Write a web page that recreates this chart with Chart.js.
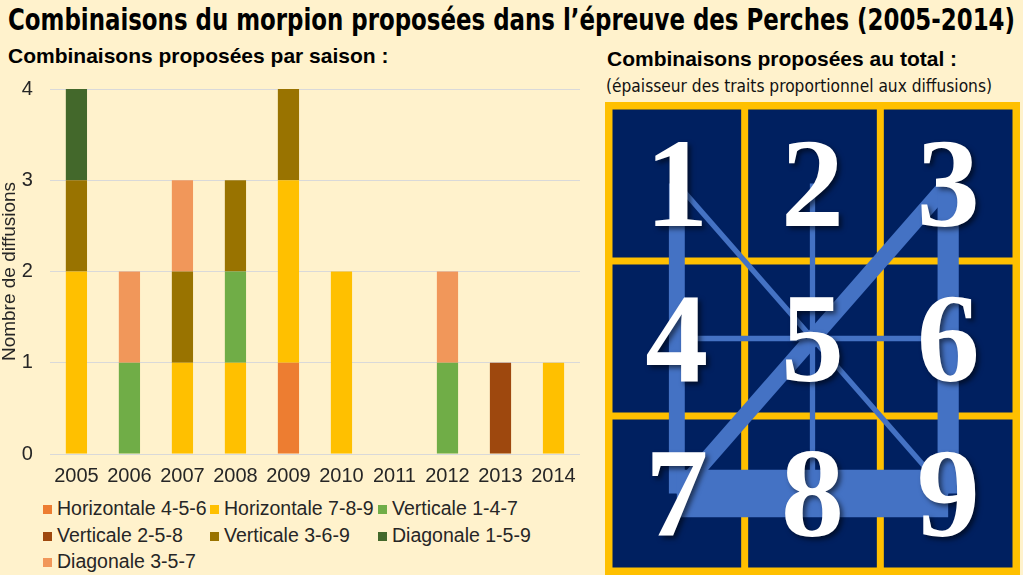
<!DOCTYPE html>
<html lang="fr">
<head>
<meta charset="utf-8">
<title>Combinaisons du morpion</title>
<script src="https://cdn.jsdelivr.net/npm/chart.js@4.4.1/dist/chart.umd.min.js"></script>
<style>
  body { margin: 0; background: #FFF2CC; width: 1023px; height: 575px; position: relative; overflow: hidden; font-family: 'Liberation Sans', Arial, sans-serif; color: #000; }
  .txt { position: absolute; white-space: nowrap; transform-origin: left center; }
  #titre { left: 8px; top: 2px; font: bold 30px 'Liberation Sans Narrow', 'Arial Narrow', 'DejaVu Sans Condensed', sans-serif; }
  #sous1 { left: 8px; top: 44px; font: bold 21px 'Liberation Sans', Arial, sans-serif; }
  #sous2 { left: 607px; top: 47px; font: bold 21px 'Liberation Sans', Arial, sans-serif; }
  #note { left: 606px; top: 75px; font: 18px 'Liberation Sans Narrow', 'Arial Narrow', 'DejaVu Sans Condensed', sans-serif; color: #111; }
  #gauche { position: absolute; left: 0; top: 60px; }
  #droite { position: absolute; left: 605px; top: 102px; }
  #legende { position: absolute; left: 43px; top: 495px; display: grid; grid-template-columns: 167px 168px 160px; font-size: 19.5px; line-height: 26.5px; color: #262626; }
  #legende span.b { display: inline-block; width: 9px; height: 9px; margin-right: 5px; vertical-align: 1px; }
</style>
</head>
<body>
<div class="txt" id="titre">Combinaisons du morpion proposées dans l’épreuve des Perches (2005-2014)</div>
<div class="txt" id="sous1">Combinaisons proposées par saison :</div>
<div class="txt" id="sous2">Combinaisons proposées au total :</div>
<div class="txt" id="note">(épaisseur des traits proportionnel aux diffusions)</div>
<canvas id="gauche" width="590" height="430"></canvas>
<div id="legende"></div>
<canvas id="droite" width="415" height="473"></canvas>
<script>
// saisons
const annees = ['2005', '2006', '2007', '2008', '2009', '2010', '2011', '2012', '2013', '2014'];

// nombre de diffusions par combinaison et par saison
const horiz456 = [0, 0, 0, 0, 1, 0, 0, 0, 0, 0];
const horiz789 = [2, 0, 1, 1, 2, 2, 0, 0, 0, 1];
const vert147 = [0, 1, 0, 1, 0, 0, 0, 1, 0, 0];
const vert258 = [0, 0, 0, 0, 0, 0, 0, 0, 1, 0];
const vert369 = [1, 0, 1, 1, 1, 0, 0, 0, 0, 0];
const diag159 = [1, 0, 0, 0, 0, 0, 0, 0, 0, 0];
const diag357 = [0, 1, 1, 0, 0, 0, 0, 1, 0, 0];

const noms = ['Horizontale 4-5-6', 'Horizontale 7-8-9', 'Verticale 1-4-7', 'Verticale 2-5-8', 'Verticale 3-6-9', 'Diagonale 1-5-9', 'Diagonale 3-5-7'];
const series = [horiz456, horiz789, vert147, vert258, vert369, diag159, diag357];
const couleurs = ['#ED7D31', '#FFC000', '#70AD47', '#9E480E', '#997300', '#43682B', '#F1975A'];
// cases reliees par chaque combinaison
const extremites = [[4, 6], [7, 9], [1, 7], [2, 8], [3, 9], [1, 9], [3, 7]];

const ticksY = [0, 1, 2, 3, 4];

// ajuste la largeur des textes etroits
function ajuster(id, largeur) {
  const el = document.getElementById(id);
  const w = el.getBoundingClientRect().width;
  if (w > 0) el.style.transform = 'scaleX(' + (largeur / w) + ')';
}
ajuster('titre', 1007);
ajuster('note', 386);

const police = { size: 20, family: "'Liberation Sans', Arial" };

// graphique en barres empilees
const ctxG = document.getElementById('gauche').getContext('2d');
new Chart(ctxG, {
  type: 'bar',
  data: {
    labels: annees,
    datasets: series.map((s, i) => ({
      label: noms[i],
      data: s,
      backgroundColor: couleurs[i],
      barPercentage: 0.4,
      categoryPercentage: 1,
    })),
  },
  options: {
    responsive: false,
    animation: false,
    events: [],
    layout: { padding: { top: 0, right: 10, left: 0, bottom: 0 } },
    plugins: { legend: { display: false }, tooltip: { enabled: false } },
    scales: {
      x: {
        stacked: true,
        grid: { display: false },
        border: { display: false },
        ticks: { color: '#262626', font: police, padding: 2 },
      },
      y: {
        stacked: true,
        min: 0,
        max: 4,
        afterBuildTicks: (axis) => { axis.ticks = ticksY.map((v) => ({ value: v })); },
        grid: { color: '#D9D9D9', drawTicks: false },
        border: { display: false },
        ticks: { color: '#262626', font: police, padding: 17 },
        title: { display: true, text: 'Nombre de diffusions', color: '#262626', font: { size: 19, family: "'Liberation Sans', Arial" }, padding: { top: -2, bottom: -16 } },
      },
    },
  },
});

// legende en html, trois colonnes
const legende = document.getElementById('legende');
noms.forEach((n, i) => {
  const d = document.createElement('div');
  d.innerHTML = '<span class="b" style="background:' + couleurs[i] + '"></span>' + n;
  legende.appendChild(d);
});

// grille du morpion
const totaux = series.map((s) => s.reduce((a, b) => a + b, 0));
const parDiffusion = 5.3;
function centre(k) {
  return { x: (k - 1) % 3 + 0.5, y: Math.floor((k - 1) / 3) + 0.5 };
}

const grille = {
  id: 'grille',
  beforeDatasetsDraw(chart) {
    const { ctx, scales } = chart;
    ctx.save();
    ctx.fillStyle = '#FFC000';
    ctx.fillRect(0, 0, chart.width, chart.height);
    ctx.fillStyle = '#002060';
    for (let c = 0; c < 3; c++) {
      for (let r = 0; r < 3; r++) {
        const x0 = scales.x.getPixelForValue(c) + 3.5;
        const x1 = scales.x.getPixelForValue(c + 1) - 3.5;
        const y0 = scales.y.getPixelForValue(r) + 3.5;
        const y1 = scales.y.getPixelForValue(r + 1) - 3.5;
        ctx.fillRect(x0, y0, x1 - x0, y1 - y0);
      }
    }
    ctx.restore();
  },
  afterDatasetsDraw(chart) {
    const { ctx, scales } = chart;
    ctx.save();
    ctx.font = "bold 126px 'Liberation Serif', 'DejaVu Serif', serif";
    ctx.textAlign = 'center';
    ctx.textBaseline = 'alphabetic';
    ctx.fillStyle = '#FFFFFF';
    ctx.shadowColor = 'rgba(0,0,0,0.55)';
    ctx.shadowBlur = 5;
    ctx.shadowOffsetX = 3;
    ctx.shadowOffsetY = 3;
    for (let k = 1; k <= 9; k++) {
      const p = centre(k);
      ctx.fillText(String(k), scales.x.getPixelForValue(p.x), scales.y.getPixelForValue(p.y) + 42);
    }
    ctx.restore();
  },
};

const ctxD = document.getElementById('droite').getContext('2d');
new Chart(ctxD, {
  type: 'scatter',
  data: {
    datasets: extremites.map((e, i) => ({
      label: noms[i],
      data: [centre(e[0]), centre(e[1])],
      showLine: true,
      pointRadius: 0,
      borderColor: '#4472C4',
      borderWidth: totaux[i] * parDiffusion,
      borderCapStyle: 'butt',
      clip: false,
    })),
  },
  options: {
    responsive: false,
    animation: false,
    events: [],
    layout: { padding: 4 },
    plugins: { legend: { display: false }, tooltip: { enabled: false } },
    scales: {
      x: { type: 'linear', min: 0, max: 3, display: false },
      y: { type: 'linear', min: 0, max: 3, reverse: true, display: false },
    },
  },
  plugins: [grille],
});
</script>
</body>
</html>
